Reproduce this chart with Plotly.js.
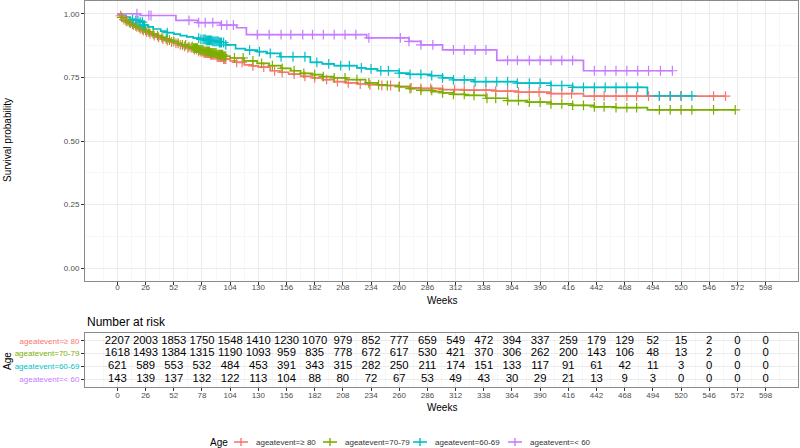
<!DOCTYPE html>
<html><head><meta charset="utf-8">
<script src="https://cdn.plot.ly/plotly-3.0.1.min.js"></script>
<style>html,body{margin:0;padding:0;background:#fff}</style>
</head><body><div id="chart" style="width:800px;height:448px"></div>
<script>
const groupNames = ["ageatevent=\u2265 80", "ageatevent=70-79", "ageatevent=60-69", "ageatevent=< 60"];
const groupColors = ["#F8766D", "#7CAE00", "#00BFC4", "#C77CFF"];
const legendTitle = "Age";

// Kaplan-Meier step curves (weeks, survival)
const timesGE80 = [0,2,4,6,8,10,13,16,19,22,25,28,32,36,40,44,48,52,56,60,65,70,75,80,86,92,98,104,110,117,124,130,141,150,158,169,180,189,200,211,222,232,243,260,270,280,300,320,349,370,400,430];
const survGE80  = [1.0,0.992,0.984,0.977,0.970,0.963,0.955,0.948,0.941,0.934,0.928,0.922,0.914,0.907,0.900,0.894,0.889,0.884,0.878,0.872,0.866,0.859,0.851,0.845,0.838,0.830,0.822,0.815,0.809,0.799,0.795,0.790,0.776,0.770,0.763,0.754,0.748,0.741,0.733,0.728,0.724,0.721,0.718,0.714,0.709,0.707,0.702,0.700,0.696,0.692,0.686,0.676];
const endGE80 = 561;

const times7079 = [0,2,4,6,8,10,13,16,19,22,25,28,32,36,40,44,48,52,56,60,65,70,75,80,86,92,98,104,117,129,140,151,160,169,180,189,200,211,229,240,249,260,269,280,291,300,310,321,340,360,378,400,420,440,460,489];
const surv7079  = [1.0,0.993,0.986,0.979,0.972,0.966,0.959,0.952,0.946,0.940,0.935,0.929,0.921,0.914,0.907,0.901,0.896,0.891,0.884,0.878,0.871,0.865,0.858,0.852,0.846,0.839,0.833,0.826,0.815,0.805,0.796,0.785,0.776,0.766,0.761,0.753,0.748,0.741,0.728,0.721,0.718,0.714,0.706,0.699,0.694,0.689,0.683,0.679,0.668,0.659,0.653,0.646,0.640,0.634,0.631,0.622];
const end7079 = 570;

const times6069 = [0,4,8,12,17,21,24,28,33,40,46,52,58,64,70,76,82,88,94,100,109,118,129,138,150,178,189,200,221,229,240,260,269,289,300,310,329,369,400,420,489];
const surv6069  = [1.0,0.994,0.987,0.978,0.974,0.967,0.955,0.948,0.940,0.932,0.926,0.920,0.914,0.909,0.904,0.899,0.895,0.891,0.887,0.878,0.863,0.857,0.851,0.844,0.831,0.809,0.803,0.796,0.787,0.783,0.776,0.767,0.762,0.757,0.748,0.740,0.733,0.727,0.718,0.711,0.677];
const end6069 = 530;

const timesLT60 = [0,21,54,74,95,110,119,230,269,280,300,350,430];
const survLT60  = [1.0,0.993,0.974,0.965,0.955,0.945,0.918,0.905,0.891,0.878,0.858,0.817,0.776];
const endLT60 = 512;

// censoring times (weeks)
const censGE80 = [3,6,9,12,15,18,21,24,27,30,34,38,42,46,50,54,58,62,65,68,71,73,75,77,78,79,80,81,82,83,84,85,86,87,88,89,90,91,92,93,94,95,96,97,98,99,100,110,115,125,135,145,152,163,173,182,193,203,213,224,233,244,252,260,271,280,289,300,311,320,329,340,349,360,370,380,389,400,410,419,440,449,460,470,479,490,500,510,520,550,561];
const cens7079 = [4,8,11,14,17,20,23,26,29,33,37,41,45,48,52,56,60,63,66,69,70,71,72,73,74,75,76,77,78,79,80,81,82,83,84,85,86,87,88,89,90,91,92,93,94,95,96,97,98,99,100,108,116,125,133,143,152,163,172,182,190,200,210,221,232,241,249,260,270,280,290,300,310,320,329,341,349,360,370,380,390,400,410,420,430,440,449,460,470,479,500,510,520,530,550,570];
const cens6069 = [14,17,19,21,23,24,25,46,75,77,79,80,81,82,83,84,85,86,87,88,89,90,91,92,93,94,95,96,98,100,122,131,141,151,162,173,184,195,206,214,225,234,243,250,260,270,280,290,300,310,320,330,340,350,360,369,380,390,400,410,420,430,440,450,460,470,480,500,510,520,530];
const censLT60 = [18,29,31,66,75,81,88,96,101,107,129,140,151,160,171,180,190,200,210,220,232,261,269,280,291,310,320,330,340,360,369,380,390,400,410,420,440,450,460,470,480,490,501,512];

// number at risk table
const riskTimes = [0,26,52,78,104,130,156,182,208,234,260,286,312,338,364,390,416,442,468,494,520,546,572,598];
const riskGE80 = [2207,2003,1853,1750,1548,1410,1230,1070,979,852,777,659,549,472,394,337,259,179,129,52,15,2,0,0];
const risk7079 = [1618,1493,1384,1315,1190,1093,959,835,778,672,617,530,421,370,306,262,200,143,106,48,13,2,0,0];
const risk6069 = [621,589,553,532,484,453,391,343,315,282,250,211,174,151,133,117,91,61,42,11,3,0,0,0];
const riskLT60 = [143,139,137,132,122,113,104,88,80,72,67,53,49,43,30,29,21,13,9,3,0,0,0,0];

const xTicks = [0,26,52,78,104,130,156,182,208,234,260,286,312,338,364,390,416,442,468,494,520,546,572,598];
const yTicks = [0,0.25,0.5,0.75,1];
const yTickText = ["0.00","0.25","0.50","0.75","1.00"];

const curves = [
  {t: timesGE80, s: survGE80, end: endGE80, c: censGE80, risk: riskGE80},
  {t: times7079, s: surv7079, end: end7079, c: cens7079, risk: risk7079},
  {t: times6069, s: surv6069, end: end6069, c: cens6069, risk: risk6069},
  {t: timesLT60, s: survLT60, end: endLT60, c: censLT60, risk: riskLT60}
];

function survAt(t, s, x) {
  let v = s[0];
  for (let i = 0; i < t.length; i++) { if (t[i] <= x) v = s[i]; else break; }
  return v;
}

const FONT = "Liberation Sans, Arial, Helvetica, sans-serif";
const traces = [];
curves.forEach((g, i) => {
  traces.push({
    x: g.t.concat([g.end]), y: g.s.concat([g.s[g.s.length - 1]]), name: groupNames[i],
    type: "scatter", mode: "lines", line: {shape: "hv", color: groupColors[i], width: 1.7},
    xaxis: "x", yaxis: "y", showlegend: false, hoverinfo: "skip"
  });
});
curves.forEach((g, i) => {
  traces.push({
    x: g.c, y: g.c.map(x => survAt(g.t, g.s, x)), name: groupNames[i],
    type: "scatter", mode: "markers",
    marker: {symbol: "cross-thin-open", size: 7, color: groupColors[i], line: {color: groupColors[i], width: 1.2}},
    xaxis: "x", yaxis: "y", showlegend: false, hoverinfo: "skip"
  });
});
// risk table
const rowPos = [4, 3, 2, 1];
curves.forEach((g, i) => {
  traces.push({
    x: riskTimes, y: riskTimes.map(() => rowPos[i]), text: g.risk.map(String),
    type: "scatter", mode: "text", textposition: "middle center",
    textfont: {family: FONT, size: 11.3, color: "#000000"},
    xaxis: "x2", yaxis: "y2", showlegend: false, hoverinfo: "skip", cliponaxis: false
  });
});

const H = 448, L = 85, R = 2, PW = 800 - L - R;
const py = p => 1 - p / H;
const px = p => (p - L) / PW;

const axisCommon = {
  showline: true, mirror: true, linecolor: "#8a8a8a", linewidth: 1,
  ticks: "outside", ticklen: 3, tickcolor: "#333333", tickwidth: 1,
  gridcolor: "#EBEBEB", gridwidth: 1, zeroline: false,
  tickfont: {family: FONT, size: 8, color: "#4D4D4D"}, automargin: false, fixedrange: true
};

// manual legend (bottom, horizontal)
const legTextStart = [254, 343, 433, 528];
const legY = 442;
const shapes = [];
const annotations = [
  {text: "Survival probability", xref: "paper", yref: "paper", x: px(7), y: py(140), textangle: -90,
   showarrow: false, font: {family: FONT, size: 10, color: "#000000"}, xanchor: "center", yanchor: "middle"},
  {text: "Weeks", xref: "paper", yref: "paper", x: 0.5, y: py(300),
   showarrow: false, font: {family: FONT, size: 10, color: "#000000"}, xanchor: "center", yanchor: "middle"},
  {text: "Number at risk", xref: "paper", yref: "paper", x: 0, y: py(322),
   showarrow: false, font: {family: FONT, size: 12, color: "#000000"}, xanchor: "left", yanchor: "middle"},
  {text: "Age", xref: "paper", yref: "paper", x: px(7), y: py(361), textangle: -90,
   showarrow: false, font: {family: FONT, size: 10, color: "#000000"}, xanchor: "center", yanchor: "middle"},
  {text: "Weeks", xref: "paper", yref: "paper", x: 0.5, y: py(407),
   showarrow: false, font: {family: FONT, size: 10, color: "#000000"}, xanchor: "center", yanchor: "middle"},
  {text: legendTitle, xref: "paper", yref: "paper", x: px(208), y: py(legY),
   showarrow: false, font: {family: FONT, size: 10, color: "#000000"}, xanchor: "left", yanchor: "middle"}
];
groupNames.forEach((n, i) => {
  const c = legTextStart[i] - 13;
  shapes.push({type: "line", xref: "paper", yref: "paper", x0: px(c - 7), x1: px(c + 7), y0: py(legY), y1: py(legY),
               line: {color: groupColors[i], width: 1.6}});
  shapes.push({type: "line", xref: "paper", yref: "paper", x0: px(c), x1: px(c), y0: py(legY - 4), y1: py(legY + 4),
               line: {color: groupColors[i], width: 1.4}});
  annotations.push({text: n, xref: "paper", yref: "paper", x: px(legTextStart[i]), y: py(legY),
    showarrow: false, font: {family: FONT, size: 8, color: "#333333"}, xanchor: "left", yanchor: "middle"});
});

const layout = {
  width: 800, height: 448,
  margin: {l: L, r: R, t: 0, b: 0, pad: 0, autoexpand: false},
  paper_bgcolor: "#ffffff", plot_bgcolor: "#ffffff",
  font: {family: FONT},
  showlegend: false,
  xaxis: Object.assign({}, axisCommon, {
    domain: [0, 1], anchor: "y", range: [-29.9, 627.9], ticklabelstandoff: -5,
    tickmode: "array", tickvals: xTicks, ticktext: xTicks.map(String),
    minor: {tick0: 13, dtick: 26, showgrid: true, gridcolor: "#F2F2F2", gridwidth: 0.6, ticks: ""}
  }),
  yaxis: Object.assign({}, axisCommon, {
    domain: [py(281), py(1)], anchor: "x", range: [-0.05, 1.05],
    tickmode: "array", tickvals: yTicks, ticktext: yTickText,
    minor: {tick0: 0.125, dtick: 0.25, showgrid: true, gridcolor: "#F2F2F2", gridwidth: 0.6, ticks: ""}
  }),
  xaxis2: Object.assign({}, axisCommon, {
    domain: [0, 1], anchor: "y2", range: [-29.9, 627.9], ticklabelstandoff: -3,
    tickmode: "array", tickvals: riskTimes, ticktext: riskTimes.map(String),
    minor: {tick0: 13, dtick: 26, showgrid: true, gridcolor: "#F2F2F2", gridwidth: 0.6, ticks: ""}
  }),
  yaxis2: Object.assign({}, axisCommon, {
    domain: [py(387), py(333)], anchor: "x2", range: [0.4, 4.6],
    tickmode: "array", tickvals: rowPos,
    ticktext: groupNames.map((n, i) => '<span style="color:' + groupColors[i] + '">' + n + '</span>')
  }),
  shapes: shapes,
  annotations: annotations
};

Plotly.newPlot("chart", traces, layout, {displayModeBar: false, staticPlot: true});
</script>
</body></html>
